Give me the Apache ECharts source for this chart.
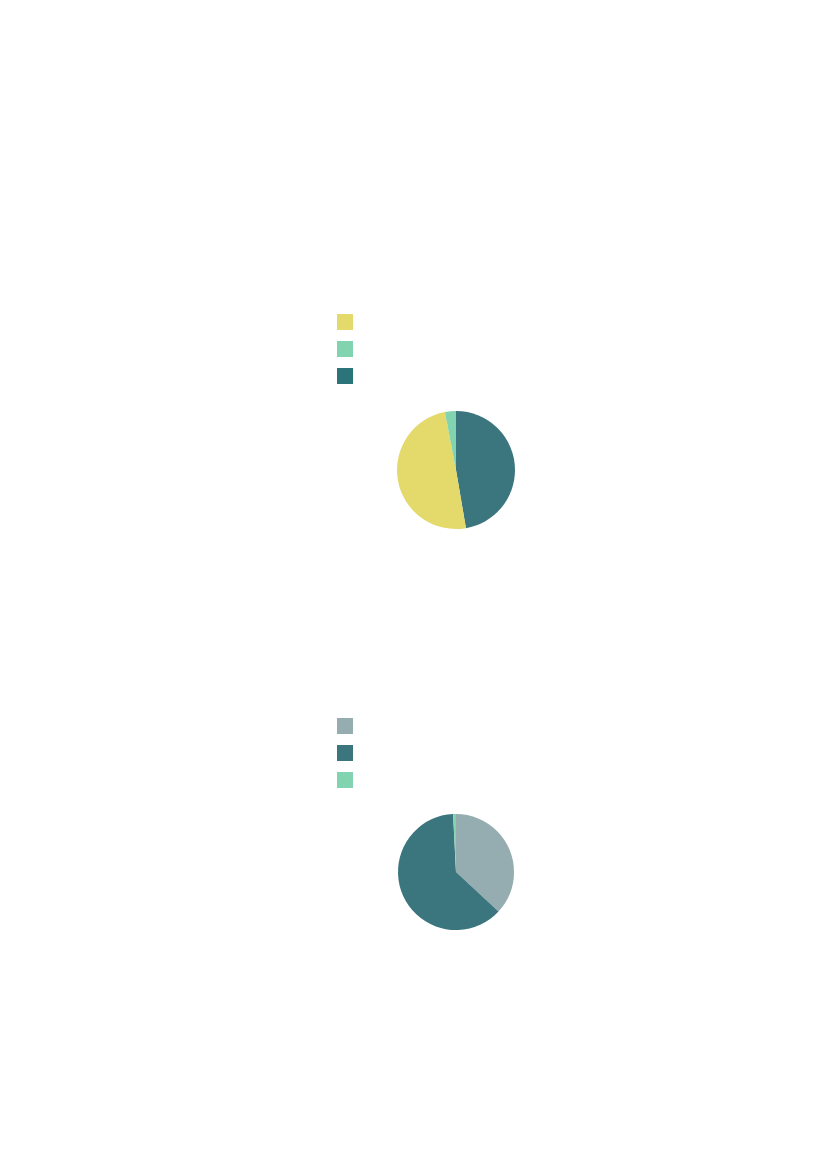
<!DOCTYPE html>
<html>
<head>
<meta charset="utf-8">
<script src="https://cdn.jsdelivr.net/npm/echarts@6/dist/echarts.min.js"></script>
<style>
  html, body { margin: 0; padding: 0; background: #fff; }
  #chart { width: 827px; height: 1169px; }
</style>
</head>
<body>
<div id="chart"></div>
<script>
// pie 1 (slices clockwise from 12 o'clock)
var pie1Names = ['C', 'A', 'B'];
var pie1Values = [47.3, 49.7, 3.0];
var pie1Colors = ['#3b767e', '#e4d96b', '#82d3af'];
var legend1Order = ['A', 'B', 'C'];

// pie 2
var pie2Names = ['D', 'E', 'F'];
var pie2Values = [36.9, 62.3, 0.8];
var pie2Colors = ['#95adb0', '#3b767e', '#82d3af'];
var legend2Order = ['D', 'E', 'F'];

function buildData(names, values, colors) {
    return names.map(function (n, i) {
        return { name: n, value: values[i], itemStyle: { color: colors[i] } };
    });
}

var myChart = echarts.init(document.getElementById('chart'));
var option = {
    backgroundColor: '#fff',
    animation: false,
    legend: [{
        orient: 'vertical',
        left: 337,
        top: 314,
        padding: 0,
        itemWidth: 16,
        itemHeight: 16,
        itemGap: 11,
        icon: 'rect',
        selectedMode: false,
        formatter: function () { return ''; },
        data: legend1Order.map(function (n) {
            // legend swatch for C is a touch darker than its slice
            return n === 'C' ? { name: n, itemStyle: { color: '#2b747a' } } : n;
        })
    }, {
        orient: 'vertical',
        left: 337,
        top: 718,
        padding: 0,
        itemWidth: 16,
        itemHeight: 16,
        itemGap: 11,
        icon: 'rect',
        selectedMode: false,
        formatter: function () { return ''; },
        data: legend2Order
    }],
    series: [{
        type: 'pie',
        center: [456, 470],
        radius: 59,
        startAngle: 90,
        clockwise: true,
        label: { show: false },
        labelLine: { show: false },
        itemStyle: { borderWidth: 0 },
        data: buildData(pie1Names, pie1Values, pie1Colors)
    }, {
        type: 'pie',
        center: [456, 872],
        radius: 58,
        startAngle: 90,
        clockwise: true,
        label: { show: false },
        labelLine: { show: false },
        itemStyle: { borderWidth: 0 },
        data: buildData(pie2Names, pie2Values, pie2Colors)
    }]
};
myChart.setOption(option);
</script>
</body>
</html>
